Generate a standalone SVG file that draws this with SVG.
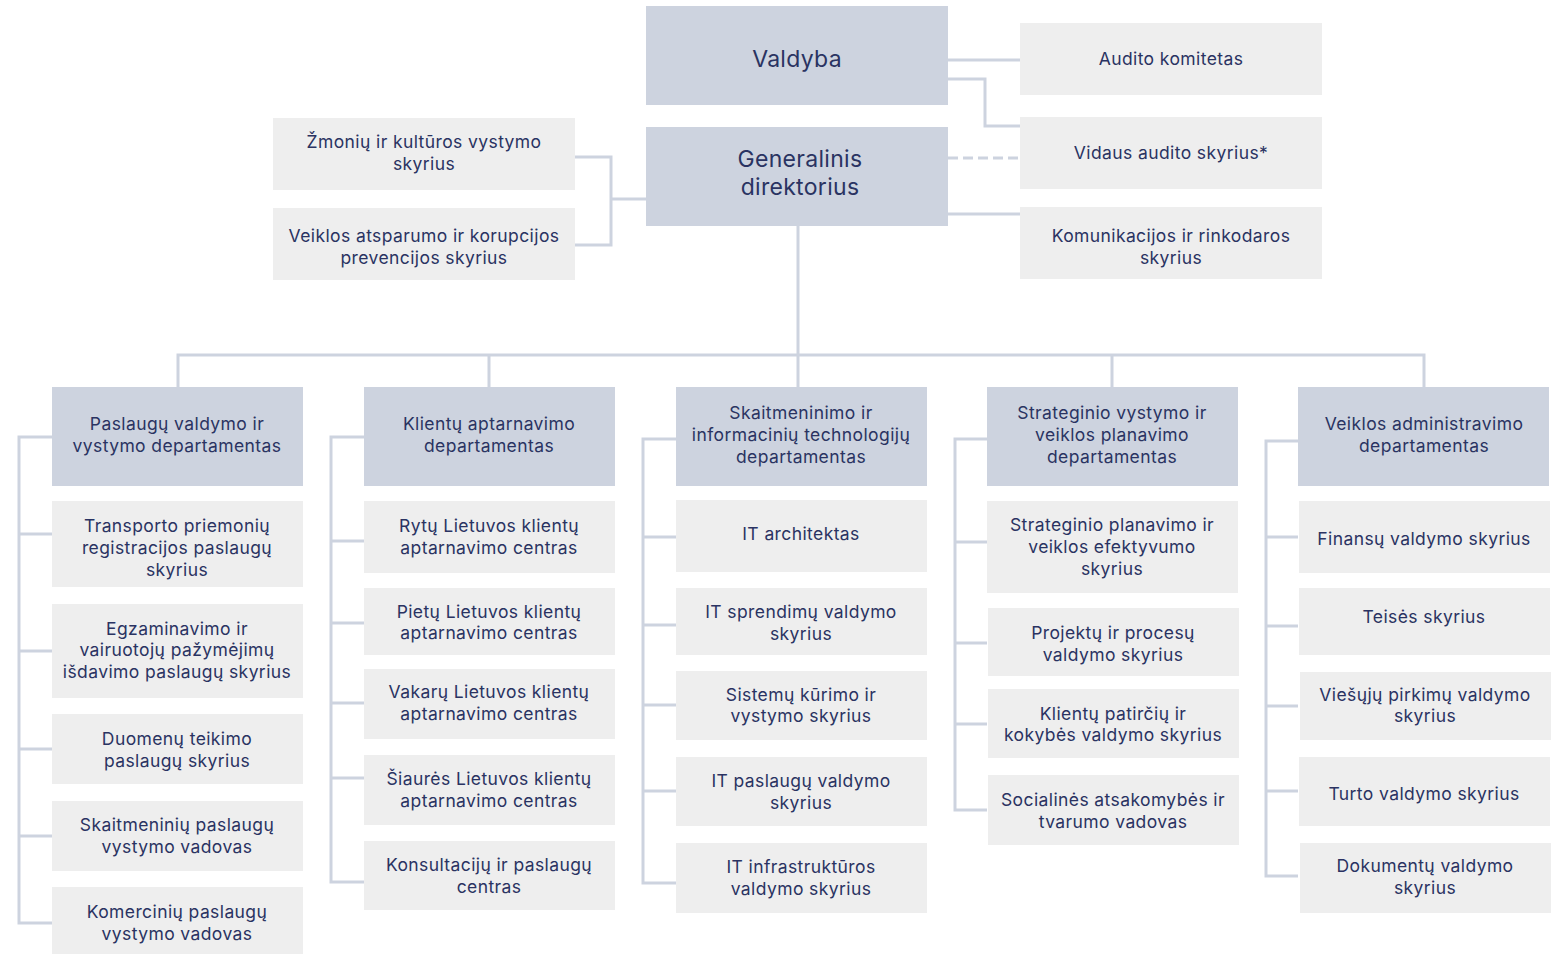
<svg xmlns="http://www.w3.org/2000/svg" width="1555" height="954" viewBox="0 0 1555 954">
<style>
.d{fill:#CDD3DF}
.s{fill:#EEEEEE}
text{font-family:Inter,"Liberation Sans",sans-serif;font-size:17.5px;letter-spacing:0.4px;fill:#2A3362;text-anchor:middle}
.big{font-size:23px;letter-spacing:0.3px}
.c{fill:none;stroke:#CDD3DF;stroke-width:3}
.dash{stroke-dasharray:10 5}
</style>
<rect width="1555" height="954" fill="#FFFFFF"/>
<g id="connectors">
<path class="c" d="M948 60H1020"/>
<path class="c" d="M948 79H985V126H1020"/>
<path class="c dash" d="M948 158H1020"/>
<path class="c" d="M948 214H1020"/>
<path class="c" d="M575 157H611V245H575M611 199H646"/>
<path class="c" d="M798 226V355M178 387V355H1424V387M489 355V387M798 355V387M1112 355V387"/>
<path class="c" d="M52 437H19V923H52M19 534H52M19 651H52M19 749H52M19 836H52"/>
<path class="c" d="M364 437H331V882H364M331 541H364M331 623H364M331 703H364M331 778H364"/>
<path class="c" d="M676 439H643V883H676M643 537H676M643 625H676M643 705H676M643 791H676"/>
<path class="c" d="M987 439H955V810H987M955 542H987M955 643H987M955 724H987"/>
<path class="c" d="M1298 441H1266V876H1298M1266 537H1298M1266 626H1298M1266 706H1298M1266 791H1298"/>
</g>
<g id="valdyba"><rect class="d" x="646" y="6" width="302" height="99"/><text class="big" x="797" y="67">Valdyba</text></g>
<g id="generalinis"><rect class="d" x="646" y="127" width="302" height="99"/><text class="big" x="800" y="167">Generalinis</text><text class="big" x="800" y="195">direktorius</text></g>
<g id="audito"><rect class="s" x="1020" y="23" width="302" height="72"/><text x="1171" y="65">Audito komitetas</text></g>
<g id="vidaus"><rect class="s" x="1020" y="117" width="302" height="72"/><text x="1171" y="159">Vidaus audito skyrius*</text></g>
<g id="komunikacijos"><rect class="s" x="1020" y="207" width="302" height="72"/><text x="1171" y="242">Komunikacijos ir rinkodaros</text><text x="1171" y="264">skyrius</text></g>
<g id="zmoniu"><rect class="s" x="273" y="118" width="302" height="72"/><text x="424" y="148">Žmonių ir kultūros vystymo</text><text x="424" y="170">skyrius</text></g>
<g id="atsparumo"><rect class="s" x="273" y="208" width="302" height="72"/><text x="424" y="242">Veiklos atsparumo ir korupcijos</text><text x="424" y="264">prevencijos skyrius</text></g>

<g id="dep1"><rect class="d" x="52" y="387" width="251" height="99"/><text x="177" y="430">Paslaugų valdymo ir</text><text x="177" y="452">vystymo departamentas</text></g>
<g id="transporto"><rect class="s" x="52" y="501" width="251" height="86"/><text x="177" y="532">Transporto priemonių</text><text x="177" y="554">registracijos paslaugų</text><text x="177" y="576">skyrius</text></g>
<g id="egzaminavimo"><rect class="s" x="52" y="604" width="251" height="94"/><text x="177" y="635">Egzaminavimo ir</text><text x="177" y="656">vairuotojų pažymėjimų</text><text x="177" y="678">išdavimo paslaugų skyrius</text></g>
<g id="duomenu"><rect class="s" x="52" y="714" width="251" height="70"/><text x="177" y="745">Duomenų teikimo</text><text x="177" y="767">paslaugų skyrius</text></g>
<g id="skaitmeniniu"><rect class="s" x="52" y="801" width="251" height="70"/><text x="177" y="831">Skaitmeninių paslaugų</text><text x="177" y="853">vystymo vadovas</text></g>
<g id="komerciniu"><rect class="s" x="52" y="887" width="251" height="67"/><text x="177" y="918">Komercinių paslaugų</text><text x="177" y="940">vystymo vadovas</text></g>

<g id="dep2"><rect class="d" x="364" y="387" width="251" height="99"/><text x="489" y="430">Klientų aptarnavimo</text><text x="489" y="452">departamentas</text></g>
<g id="rytu"><rect class="s" x="364" y="501" width="251" height="72"/><text x="489" y="532">Rytų Lietuvos klientų</text><text x="489" y="554">aptarnavimo centras</text></g>
<g id="pietu"><rect class="s" x="364" y="588" width="251" height="67"/><text x="489" y="618">Pietų Lietuvos klientų</text><text x="489" y="639">aptarnavimo centras</text></g>
<g id="vakaru"><rect class="s" x="364" y="669" width="251" height="70"/><text x="489" y="698">Vakarų Lietuvos klientų</text><text x="489" y="720">aptarnavimo centras</text></g>
<g id="siaures"><rect class="s" x="364" y="755" width="251" height="70"/><text x="489" y="785">Šiaurės Lietuvos klientų</text><text x="489" y="807">aptarnavimo centras</text></g>
<g id="konsultaciju"><rect class="s" x="364" y="841" width="251" height="69"/><text x="489" y="871">Konsultacijų ir paslaugų</text><text x="489" y="893">centras</text></g>

<g id="dep3"><rect class="d" x="676" y="387" width="251" height="99"/><text x="801" y="419">Skaitmeninimo ir</text><text x="801" y="441">informacinių technologijų</text><text x="801" y="463">departamentas</text></g>
<g id="itarch"><rect class="s" x="676" y="500" width="251" height="72"/><text x="801" y="540">IT architektas</text></g>
<g id="itsprend"><rect class="s" x="676" y="588" width="251" height="67"/><text x="801" y="618">IT sprendimų valdymo</text><text x="801" y="640">skyrius</text></g>
<g id="sistemu"><rect class="s" x="676" y="671" width="251" height="69"/><text x="801" y="701">Sistemų kūrimo ir</text><text x="801" y="722">vystymo skyrius</text></g>
<g id="itpasl"><rect class="s" x="676" y="757" width="251" height="69"/><text x="801" y="787">IT paslaugų valdymo</text><text x="801" y="809">skyrius</text></g>
<g id="itinfra"><rect class="s" x="676" y="843" width="251" height="70"/><text x="801" y="873">IT infrastruktūros</text><text x="801" y="895">valdymo skyrius</text></g>

<g id="dep4"><rect class="d" x="987" y="387" width="251" height="99"/><text x="1112" y="419">Strateginio vystymo ir</text><text x="1112" y="441">veiklos planavimo</text><text x="1112" y="463">departamentas</text></g>
<g id="stratplan"><rect class="s" x="987" y="501" width="251" height="92"/><text x="1112" y="531">Strateginio planavimo ir</text><text x="1112" y="553">veiklos efektyvumo</text><text x="1112" y="575">skyrius</text></g>
<g id="projektu"><rect class="s" x="988" y="608" width="251" height="68"/><text x="1113" y="639">Projektų ir procesų</text><text x="1113" y="661">valdymo skyrius</text></g>
<g id="klientupat"><rect class="s" x="988" y="689" width="251" height="69"/><text x="1113" y="720">Klientų patirčių ir</text><text x="1113" y="741">kokybės valdymo skyrius</text></g>
<g id="socialines"><rect class="s" x="988" y="775" width="251" height="70"/><text x="1113" y="806">Socialinės atsakomybės ir</text><text x="1113" y="828">tvarumo vadovas</text></g>

<g id="dep5"><rect class="d" x="1298" y="387" width="251" height="99"/><text x="1424" y="430">Veiklos administravimo</text><text x="1424" y="452">departamentas</text></g>
<g id="finansu"><rect class="s" x="1299" y="501" width="251" height="72"/><text x="1424" y="545">Finansų valdymo skyrius</text></g>
<g id="teises"><rect class="s" x="1299" y="588" width="251" height="67"/><text x="1424" y="623">Teisės skyrius</text></g>
<g id="viesuju"><rect class="s" x="1300" y="672" width="251" height="68"/><text x="1425" y="701">Viešųjų pirkimų valdymo</text><text x="1425" y="722">skyrius</text></g>
<g id="turto"><rect class="s" x="1299" y="757" width="251" height="69"/><text x="1424" y="800">Turto valdymo skyrius</text></g>
<g id="dokumentu"><rect class="s" x="1300" y="843" width="251" height="70"/><text x="1425" y="872">Dokumentų valdymo</text><text x="1425" y="894">skyrius</text></g>
</svg>
